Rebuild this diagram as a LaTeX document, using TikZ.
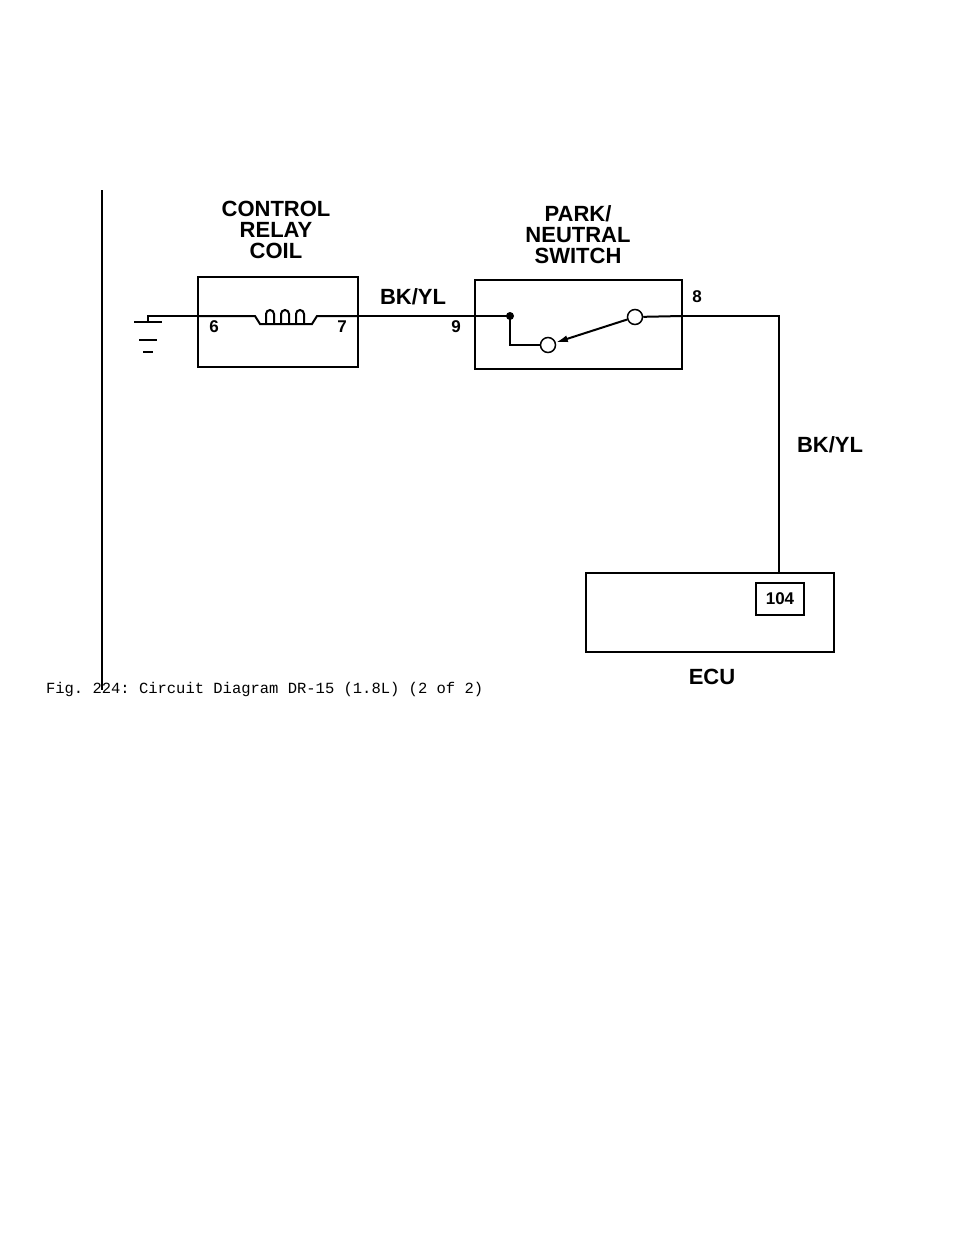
\documentclass[tikz,border=0pt]{standalone}
\usepackage{fontspec}
\setmainfont{Liberation Sans}
\setmonofont{Liberation Mono}
\usetikzlibrary{positioning,arrows.meta}
\begin{document}
\begin{tikzpicture}[x=1pt,y=-1pt,line width=2pt]
    \tikzset{lbl/.style={font=\bfseries\fontsize{22}{21}\selectfont,inner sep=0pt,align=center},
        pin/.style={font=\bfseries\fontsize{17}{17}\selectfont,inner sep=0pt},
        term/.style={draw,circle,fill=white,minimum size=15pt,inner sep=0pt,line width=1.5pt}}
    \useasboundingbox (0,0) rectangle (960,1242);
    \draw (102,190) -- (102,690);
    % control relay coil
    \draw (198,277) rectangle (358,367);
    \node[lbl] (relaylbl) at (276,230) {CONTROL\\RELAY\\COIL};
    \coordinate (p6) at (198,316);
    \coordinate (p7) at (358,316);
    \draw (p6) -- (255,316) -- (260,324) -- (312,324) -- (317,316) -- (p7);
    \foreach \cx in {266,281,296} \draw (\cx,324) -- (\cx,314) arc (180:360:4) -- (\cx+8,324);
    \node[pin] (n6) at (214,327) {6};
    \node[pin] (n7) at (342,327) {7};
    % ground
    \coordinate (gnd) at (148,322);
    \draw (p6) -- (148,316) -- (gnd);
    \draw (134,322) -- (162,322) (139,340) -- (157,340) (143,352) -- (153,352);
    % park/neutral switch
    \draw (475,280) rectangle (682,369);
    \node[lbl] (swlbl) at (578,235) {PARK/\\NEUTRAL\\SWITCH};
    \coordinate (p9) at (475,316);
    \coordinate (p8) at (682,316);
    \draw (p7) -- (p9) -- (510,316);
    \node[pin] (n9) at (456,327) {9};
    \node[pin] (n8) at (697,297) {8};
    \node[lbl] (w1) at (413,297) {BK/YL};
    \fill (510,316) circle (4);
    \node[term] (c1) at (548,345) {};
    \node[term] (c2) at (635,317) {};
    \draw (510,316) -- (510,345) -- (c1);
    \draw[-{Latex[length=12pt,width=7pt]}] (c2) -- (c1);
    \draw (c2) -- (p8);
    % ECU
    \draw (p8) -- (779,316) -- (779,573);
    \node[lbl] (w2) at (830,445) {BK/YL};
    \draw (586,573) rectangle (834,652);
    \node[draw,pin,minimum width=48pt,minimum height=32pt] (pin104) at (780,599) {104};
    \node[lbl] (ecu) at (712,677) {ECU};
    \node[anchor=west,font=\ttfamily\fontsize{15.5}{15}\selectfont,inner sep=0pt] (cap) at (45,689) {Fig. 224:  Circuit Diagram DR-15 (1.8L) (2 of 2)};
\end{tikzpicture}
\end{document}
